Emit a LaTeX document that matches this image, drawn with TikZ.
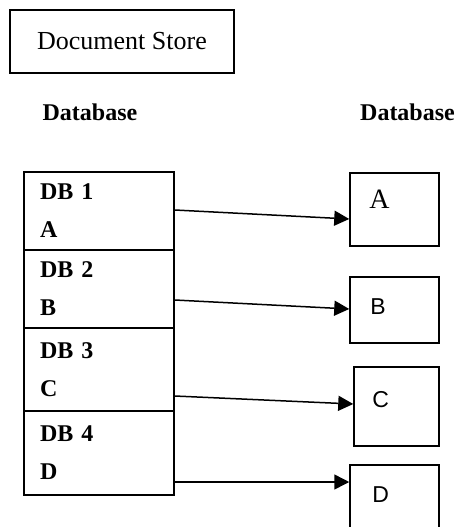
\documentclass[tikz,border=0pt]{standalone}
\usepackage{fontspec}
\setmainfont{Liberation Serif}
\newfontfamily\arialfont{Liberation Sans}
\usetikzlibrary{arrows.meta}
\begin{document}
\begin{tikzpicture}[x=1pt, y=-1pt,
    box/.style={draw, line width=1.5pt, inner sep=0pt},
    dbrow/.style={box, minimum width=150pt, text width=118pt, align=left, font=\bfseries\fontsize{24}{38}\selectfont},
    target/.style={box, minimum width=89pt},
    heading/.style={font=\bfseries\fontsize{24}{28}\selectfont},
    tag/.style={anchor=west, inner sep=0pt, font=\arialfont\fontsize{23}{26}\selectfont},
    link/.style={-{Triangle[length=15pt, width=15pt]}, line width=1.5pt}
  ]
  \useasboundingbox (0,0) rectangle (460,527);

  \node[box, minimum width=224pt, minimum height=63pt, font=\fontsize{26}{30}\selectfont] (store) at (122,41.5) {Document Store};
  \node[heading] (dbl) at (90,112) {Database};
  \node[heading] (dbr) at (407.5,112) {Database};

  \node[dbrow, minimum height=78pt] (db1) at (99,211) {DB 1\\A};
  \node[dbrow, minimum height=78pt] (db2) at (99,289) {DB 2\\B};
  \node[dbrow, minimum height=83pt] (db3) at (99,369.5) {DB 3\\C};
  \node[dbrow, minimum height=84pt] (db4) at (99,453) {DB 4\\D};

  \node[target, minimum height=73pt] (a) at (394.5,209.5) {};
  \node[target, minimum height=66pt] (b) at (394.5,310) {};
  \node[target, minimum width=85pt, minimum height=79pt] (c) at (396.5,406.5) {};
  \node[target, minimum height=75pt] (d) at (394.5,502.5) {};

  \node[tag, font=\fontsize{28}{30}\selectfont] (atag) at ([xshift=20pt, yshift=-27pt]a.north west) {A};
  \node[tag] (btag) at ([xshift=21pt, yshift=-30pt]b.north west) {B};
  \node[tag] (ctag) at ([xshift=19pt, yshift=-33pt]c.north west) {C};
  \node[tag] (dtag) at ([xshift=23pt, yshift=-30pt]d.north west) {D};

  \draw[link] ([yshift=1pt]db1.east) -- ([yshift=-9.5pt]a.west);
  \draw[link] ([yshift=-11pt]db2.east) -- ([yshift=1pt]b.west);
  \draw[link] ([yshift=-26.5pt]db3.east) -- ([yshift=2.5pt]c.west);
  \draw[link] ([yshift=-29pt]db4.east) -- ([yshift=20.5pt]d.west);
\end{tikzpicture}
\end{document}
